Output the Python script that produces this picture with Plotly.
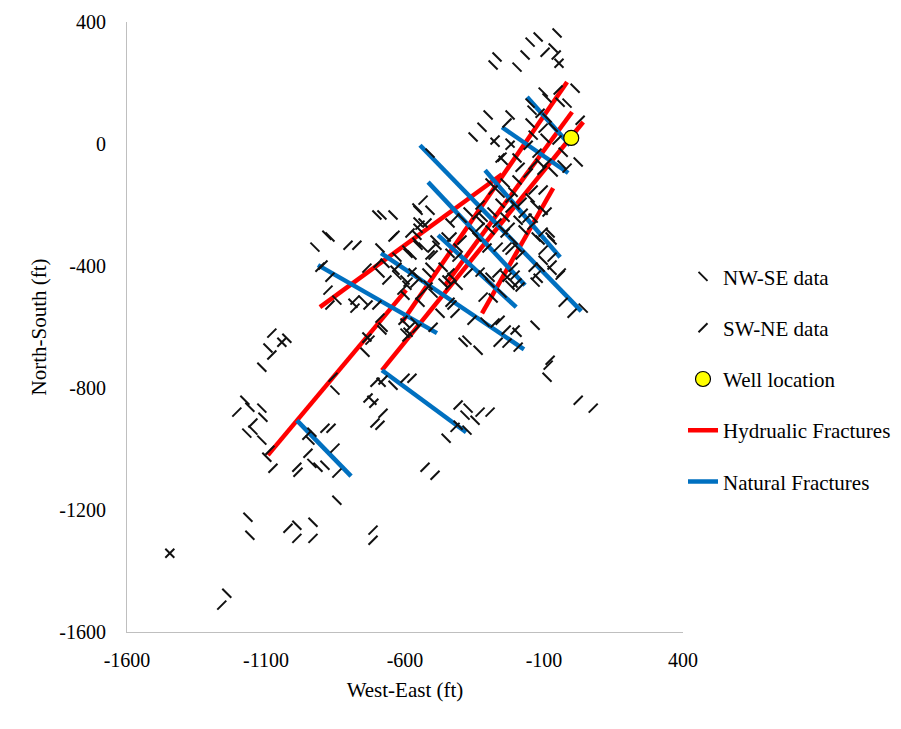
import plotly.graph_objects as go

# ---------------- data (ft) ----------------
nwse_x = [-53,-121,-150,-67,-168,-269,-46,-283,-197,12,-103,-89,-42,-17,-150,-143,-89,-222,-301,-323,-355,-150,-67,-139,-96,-31,-247,23,-114,-35,-67,
          -240,-211,-150,-132,-103,-193,-139,-240,-247,-175,-78,-71,-114,-211,-197,-103,-71,-121,-211,
          -276,-222,-510,-197,-294,-258,-197,-258,-204,-510,-553,-643,-373,-319,-287,-553,-553,-438,-395,-330,-492,-355,-341,-294,-535,-557,-690,-629,-575,-438,-409,-510,-463,-449,-431,-294,-571,-600,-636,
          -701,-683,-557,-535,-881,-870,-557,-924,-593,-589,-553,-690,-629,-845,-751,-600,-600,-679,-737,-1025,
          -593,-517,-463,-294,-222,-132,-600,-499,-546,-283,-251,41,-564,-474,-312,-132,-589,-391,-377,-337,-197,-89,-373,-384,-348,
          -485,-452,-553,-521,-409,-319,-240,-114,-128,-78,-686,-852,-409,-377,-452,-672,
          -1043,-1093,-1115,-787,-683,-744,-643,-719,-1176,-1158,-1115,-1111,-1169,-1147,-1115,-1097,-942,-935,-888,-913,
          -935,-845,-1165,-1158,-989,-931,-1446,-1241]
nwse_y = [364,351,334,315,292,285,265,259,252,183,170,151,137,134,134,111,85,95,95,55,23,69,55,29,19,-27,-53,-59,-63,-69,-92,
          -128,-158,-177,-200,-217,-250,-243,-240,-282,-282,-292,-315,-315,-315,-338,-381,-414,-440,-456,
          6,3,-30,-46,-128,-161,-118,-194,-200,-217,-217,-233,-223,-240,-223,-256,-276,-259,-243,-250,-315,-289,-305,-282,-338,-322,-341,-371,-364,-358,-341,-404,-404,-446,-437,-437,-423,-446,-414,
          -233,-233,-210,-259,-299,-305,-299,-338,-348,-358,-332,-423,-430,-512,-512,-587,-620,-601,-633,-637,
          -463,-463,-456,-456,-463,-453,-496,-489,-519,-505,-489,-538,-584,-555,-584,-594,-617,-650,-643,-676,-617,-765,-866,-889,-906,
          -332,-305,-437,-423,-463,-430,-430,-404,-305,-305,-781,-807,-922,-938,-965,-391,
          -650,-669,-732,-522,-610,-683,-791,-840,-840,-863,-866,-896,-948,-938,-971,-1027,-971,-1047,-1053,-1060,
          -945,-1168,-1224,-1283,-1250,-1240,-1342,-1473]

swne_x = [-56,-96,-46,-49,-114,-233,-103,30,-276,-53,-222,-157,-125,-251,-186,-17,-89,-107,-139,-157,
          -139,-103,-179,-89,-222,-175,-161,-222,-143,-103,-103,-233,-186,-71,-139,-42,-204,-186,
          -258,-283,-222,-535,-420,-330,-341,-521,-269,-643,-582,-431,-395,-330,-240,-503,-510,-413,-305,-265,-222,-438,-373,-330,-269,-233,
          -546,-636,-805,-773,-906,-895,-737,-697,-665,-575,-589,-629,-870,-877,-870,-780,-780,-733,-701,-611,-582,-557,-690,-726,
          -564,-517,-438,-197,-546,-438,-431,-319,-31,1,-607,-420,-359,-276,-499,-593,-265,-233,-193,-78,-85,-600,-575,-409,-330,-294,23,77,-420,
          -499,-211,-71,-38,-128,-258,-236,-204,-733,-712,-679,-708,-690,
          -1079,-1043,-1079,-737,-859,-708,-679,-1205,-1147,-1086,-953,-888,-866,-852,-949,-989,-985,-845,
          -528,-492,-1021,-989,-931,-715,-715,-1446,-1259,-1075]
swne_y = [292,301,265,177,101,69,52,78,13,13,-4,-4,-30,-43,-76,-79,-63,-86,-69,-95,
          -151,-151,-191,-223,-210,-227,-243,-273,-266,-289,-348,-338,-364,-371,-404,-430,-430,-469,
          -46,-151,-177,-184,-243,-200,-233,-259,-259,-305,-292,-305,-315,-273,-292,-341,-364,-371,-341,-338,-348,-423,-423,-420,-423,-437,
          -266,-299,-332,-332,-404,-397,-407,-391,-446,-420,-453,-404,-437,-479,-528,-512,-538,-528,-528,-479,-601,-604,-571,-643,
          -456,-469,-463,-456,-496,-519,-528,-502,-519,-555,-578,-555,-578,-587,-601,-633,-650,-653,-666,-709,-725,-768,-768,-856,-879,-879,-840,-866,-929,
          -364,-404,-397,-423,-430,-578,-610,-610,-833,-850,-883,-915,-922,
          -620,-650,-692,-637,-765,-781,-774,-879,-915,-1004,-955,-932,-932,-997,-1014,-1060,-1076,-1079,
          -1060,-1086,-1260,-1293,-1293,-1266,-1299,-1342,-1512,-1063]

well_x = [-2]
well_y = [20]

# hydraulic fractures: start / end points
hf_x0 = [-906, -1093, -683, -611, -456, -323]
hf_y0 = [-535, -1020, -742, -584, -463, -555]
hf_x1 = [-251, -596, 41, -17, 1, -67]
hf_y1 = [-99, -479, 72, 203, 105, -145]

# natural fractures: start / end points
nf_x0 = [-161, -251, -546, -312, -517, -481, -686, -913, -683, -989]
nf_y0 = [154, 55, -4, -86, -125, -299, -358, -397, -742, -906]
nf_x1 = [-6, -13, 34, -42, -168, -200, -172, -485, -380, -794]
nf_y1 = [-4, -95, -548, -371, -463, -535, -673, -620, -945, -1089]

xticks = [-1600, -1100, -600, -100, 400]
yticks = [-1600, -1200, -800, -400, 0, 400]


def segs(x0, y0, x1, y1):
    xs, ys = [], []
    for a, b, c, d in zip(x0, y0, x1, y1):
        xs += [a, c, None]
        ys += [b, d, None]
    return xs, ys


FONT = "Liberation Serif"
fig = go.Figure()

hx, hy = segs(hf_x0, hf_y0, hf_x1, hf_y1)
nx, ny = segs(nf_x0, nf_y0, nf_x1, nf_y1)

fig.add_trace(go.Scatter(x=hx, y=hy, mode="lines", name="Hydrualic Fractures",
                         line=dict(color="#FF0000", width=4.5), legendgroup="d", legendrank=4))
fig.add_trace(go.Scatter(x=nx, y=ny, mode="lines", name="Natural Fractures",
                         line=dict(color="#0070C0", width=4.5), legendgroup="e", legendrank=5))
fig.add_trace(go.Scatter(x=nwse_x, y=nwse_y, mode="markers", name="NW-SE data",
                         marker=dict(symbol="line-nw", size=9, line=dict(width=2, color="#111111")),
                         legendgroup="a", legendrank=1))
fig.add_trace(go.Scatter(x=swne_x, y=swne_y, mode="markers", name="SW-NE data",
                         marker=dict(symbol="line-ne", size=9, line=dict(width=2, color="#111111")),
                         legendgroup="b", legendrank=2))
fig.add_trace(go.Scatter(x=well_x, y=well_y, mode="markers", name="Well location",
                         marker=dict(symbol="circle", size=15, color="#FFFF00", line=dict(width=1.2, color="#000000")),
                         legendgroup="c", legendrank=3))

fig.update_layout(
    width=885, height=713,
    margin=dict(l=119, r=210, t=14, b=89, autoexpand=False),
    paper_bgcolor="white", plot_bgcolor="white",
    font=dict(family=FONT, size=20, color="black"),
    showlegend=True,
    legend=dict(x=1.0, xanchor="left", y=0.616, yanchor="top", traceorder="grouped",
                tracegroupgap=21, font=dict(family=FONT, size=21, color="black"),
                bgcolor="rgba(0,0,0,0)"),
    xaxis=dict(range=[-1600, 400], tickvals=xticks, ticktext=[str(v) for v in xticks],
               showgrid=False, zeroline=False, showline=True, linecolor="#BFBFBF", linewidth=1,
               ticks="", ticklabelstandoff=10, automargin=False,
               tickfont=dict(family=FONT, size=20, color="black"),
               title=dict(text="West-East (ft)", font=dict(family=FONT, size=21, color="black"), standoff=12)),
    yaxis=dict(range=[-1600, 400], tickvals=yticks, ticktext=[str(v) for v in yticks],
               showgrid=False, zeroline=False, showline=True, linecolor="#BFBFBF", linewidth=1,
               ticks="", ticklabelstandoff=16, automargin=False,
               tickfont=dict(family=FONT, size=20, color="black"),
               title=dict(text="North-South (ft)", font=dict(family=FONT, size=21, color="black"), standoff=6)),
)

fig.write_html("out.html")
